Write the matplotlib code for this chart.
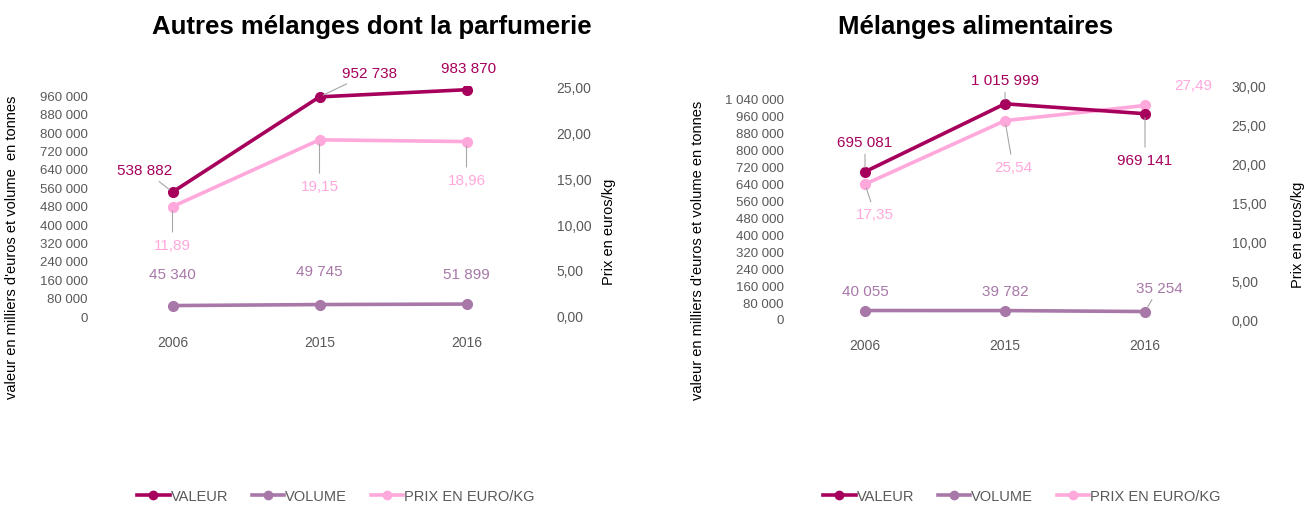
import numpy as np
import matplotlib
matplotlib.use("Agg")
import matplotlib.pyplot as plt
from matplotlib.lines import Line2D

plt.rcParams['font.family'] = ['Liberation Sans', 'DejaVu Sans']

# data
years = ["2006", "2015", "2016"]

parf_valeur = [538882, 952738, 983870]
parf_volume = [45340, 49745, 51899]
parf_prix = [11.89, 19.15, 18.96]

alim_valeur = [695081, 1015999, 969141]
alim_volume = [40055, 39782, 35254]
alim_prix = [17.35, 25.54, 27.49]

C_VAL = "#a6005c"
C_VOL = "#a878a8"
C_PRIX = "#ffa8dc"
GREY = "#595959"
LEADER = "#a6a6a6"


def fmt_int(v):
    return f"{int(round(v)):,}".replace(",", " ")


def fmt_dec(v):
    return f"{v:.2f}".replace(".", ",")


def label(ax, x, y, text, color, dx, dy, leader):
    ap = dict(arrowstyle='-', color=LEADER, lw=0.8, shrinkA=2, shrinkB=3) if leader else None
    ax.annotate(text, (x, y), xytext=(dx, dy), textcoords='offset pixels',
                ha='center', va='center', fontsize=11, color=color,
                arrowprops=ap)


def draw(fig, rect, valeur, volume, prix, vmax, pmax, lab_val, lab_vol, lab_prix):
    ax = fig.add_axes(rect)
    ax2 = ax.twinx()
    x = np.arange(len(years))
    ax.plot(x, valeur, color=C_VAL, lw=2.6, marker='o', ms=7, zorder=3)
    ax.plot(x, volume, color=C_VOL, lw=2.6, marker='o', ms=7, zorder=3)
    ax2.plot(x, prix, color=C_PRIX, lw=2.6, marker='o', ms=7, zorder=2)

    ax.set_xlim(-0.5, 2.5)
    ax.set_ylim(0, vmax)
    ax2.set_ylim(0, pmax)
    ticks = np.arange(0, vmax + 1, 80000)
    ax.set_yticks(ticks)
    ax.set_yticklabels([fmt_int(t) for t in ticks])
    pt = np.arange(0, pmax + 0.01, 5)
    ax2.set_yticks(pt)
    ax2.set_yticklabels([fmt_dec(t) for t in pt])
    ax.set_xticks(x)
    ax.set_xticklabels(years)

    for a in (ax, ax2):
        for s in a.spines.values():
            s.set_visible(False)
        a.tick_params(length=0, colors=GREY, labelsize=9.5)
    ax.tick_params(axis='x', pad=14, labelsize=10)
    ax.tick_params(axis='y', pad=8)
    ax2.tick_params(axis='y', pad=12, labelsize=10)

    ax.set_zorder(ax2.get_zorder() + 1)
    ax.patch.set_visible(False)

    for i in x:
        dx, dy, ld = lab_val[i]
        label(ax, i, valeur[i], fmt_int(valeur[i]), C_VAL, dx, dy, ld)
        dx, dy, ld = lab_vol[i]
        label(ax, i, volume[i], fmt_int(volume[i]), C_VOL, dx, dy, ld)
        dx, dy, ld = lab_prix[i]
        label(ax2, i, prix[i], fmt_dec(prix[i]), C_PRIX, dx, dy, ld)
    return ax, ax2


fig = plt.figure(figsize=(13.08, 5.06), dpi=100)
W, H = 1308, 506

# autres mélanges dont la parfumerie
draw(fig, [99 / W, 1 - 317 / H, 441 / W, 230 / H],
     parf_valeur, parf_volume, parf_prix, 1000000, 25,
     [(-28, 22, True), (50, 24, True), (2, 22, False)],
     [(0, 32, False), (0, 34, False), (0, 30, False)],
     [(0, -38, True), (0, -46, True), (0, -38, True)])

# mélanges alimentaires
draw(fig, [795 / W, 1 - 320 / H, 420 / W, 233 / H],
     alim_valeur, alim_volume, alim_prix, 1100000, 30,
     [(0, 30, True), (0, 24, True), (0, -46, True)],
     [(0, 20, False), (0, 20, False), (14, 24, True)],
     [(10, -30, True), (8, -46, True), (48, 20, False)])

fig.text(372 / W, 1 - 27 / H, "Autres mélanges dont la parfumerie", ha='center', va='center',
         fontsize=18.5, fontweight='bold')
fig.text(976 / W, 1 - 27 / H, "Mélanges alimentaires", ha='center', va='center',
         fontsize=18.5, fontweight='bold')

fig.text(12 / W, 1 - 247 / H, "valeur en milliers d'euros et volume  en tonnes", rotation=90,
         ha='center', va='center', fontsize=10.5, color='black')
fig.text(698 / W, 1 - 250 / H, "valeur en milliers d'euros et volume en tonnes", rotation=90,
         ha='center', va='center', fontsize=10.5, color='black')
fig.text(609 / W, 1 - 232 / H, "Prix en euros/kg", rotation=90,
         ha='center', va='center', fontsize=10.5, color='black')
fig.text(1298 / W, 1 - 235 / H, "Prix en euros/kg", rotation=90,
         ha='center', va='center', fontsize=10.5, color='black')

handles = [Line2D([], [], color=C_VAL, lw=2.6, marker='o', ms=6),
           Line2D([], [], color=C_VOL, lw=2.6, marker='o', ms=6),
           Line2D([], [], color=C_PRIX, lw=2.6, marker='o', ms=6)]
names = ["VALEUR", "VOLUME", "PRIX EN EURO/KG"]
for cx in (336 / W, 1022 / W):
    leg = fig.legend(handles, names, loc='center', bbox_to_anchor=(cx, 1 - 497 / H),
                     ncol=3, frameon=False, fontsize=10.5, handlelength=2.2,
                     handletextpad=0.1, columnspacing=1.6)
    for t in leg.get_texts():
        t.set_color(GREY)

fig.savefig("out.png", dpi=100)
